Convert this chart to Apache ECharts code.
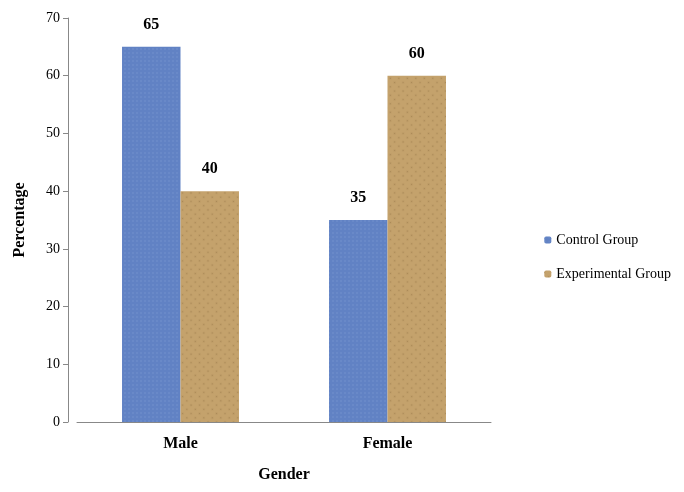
<!DOCTYPE html>
<html>
<head>
<meta charset="UTF-8" />
<style>
  * { margin: 0; padding: 0; }
  #main { width: 684px; height: 492px; background: #fff; }
</style>
</head>
<body>
<div id="main"></div>
<script src="https://cdn.jsdelivr.net/npm/echarts@6/dist/echarts.min.js"></script>
<script>
  const categories = ["Male", "Female"];
  const controlGroup = [65, 35];
  const experimentalGroup = [40, 60];

  const chart = echarts.init(document.getElementById("main"));
  const font = "Liberation Serif";
  const labelStyle = { show: true, position: "top", distance: 14, fontFamily: font, fontSize: 16, fontWeight: "bold", color: "#000" };

  chart.setOption({
    animation: false,
    textStyle: { fontFamily: font },
    grid: { left: 77, right: 193, top: 18, bottom: 70 },
    legend: {
      orient: "vertical",
      right: 8,
      top: 228,
      itemWidth: 7,
      itemHeight: 7,
      itemGap: 20,
      textStyle: { fontFamily: font, fontSize: 14, color: "#000" },
      data: ["Control Group", "Experimental Group"],
    },
    xAxis: {
      type: "category",
      data: categories,
      name: "Gender",
      nameLocation: "middle",
      nameGap: 45,
      nameTextStyle: { fontFamily: font, fontSize: 16, fontWeight: "bold", color: "#000" },
      axisLine: { lineStyle: { color: "#888" } },
      axisTick: { show: false },
      axisLabel: { fontFamily: font, fontSize: 16, fontWeight: "bold", color: "#000", margin: 14 },
    },
    yAxis: {
      type: "value",
      min: 0,
      max: 70,
      interval: 10,
      offset: 9,
      name: "Percentage",
      nameLocation: "middle",
      nameGap: 40,
      nameTextStyle: { fontFamily: font, fontSize: 16, fontWeight: "bold", color: "#000" },
      axisLine: { show: true, lineStyle: { color: "#888" } },
      axisTick: { show: true, length: 5, lineStyle: { color: "#888" } },
      splitLine: { show: false },
      axisLabel: { fontFamily: font, fontSize: 14, color: "#000" },
    },
    series: [
      {
        name: "Control Group",
        type: "bar",
        data: controlGroup,
        barGap: "0%",
        barCategoryGap: "43.5%",
        itemStyle: {
          color: "#6182c4",
          decal: { symbol: "rect", symbolSize: 0.5, color: "rgba(200,215,240,0.35)", dashArrayX: [2, 2], dashArrayY: [2, 2], rotation: 0 },
        },
        label: labelStyle,
      },
      {
        name: "Experimental Group",
        type: "bar",
        data: experimentalGroup,
        itemStyle: {
          color: "#c4a26c",
          decal: { symbol: "rect", symbolSize: 0.5, color: "rgba(110,80,40,0.3)", dashArrayX: [3, 3], dashArrayY: [3, 3], rotation: 0.785 },
        },
        label: labelStyle,
      },
    ],
  });
</script>
</body>
</html>
